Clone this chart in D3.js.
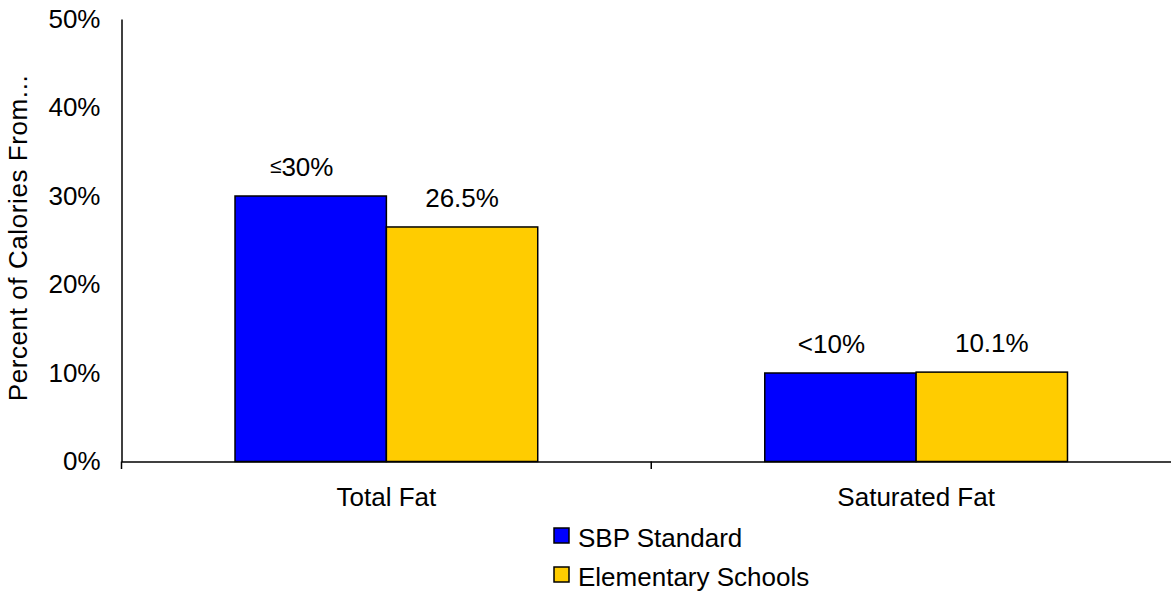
<!DOCTYPE html>
<html>
<head>
<meta charset="utf-8">
<script src="https://cdn.jsdelivr.net/npm/d3@7"></script>
<style>
  html, body { margin: 0; padding: 0; background: #fff; }
  svg { display: block; }
  text { font-family: "Liberation Sans", Arial, sans-serif; fill: #000; }
</style>
</head>
<body>
<svg id="chart" width="1171" height="592"></svg>
<script>
const categories = ["Total Fat", "Saturated Fat"];
const seriesNames = ["SBP Standard", "Elementary Schools"];
const sbpValues = [0.30, 0.10];
const elementaryValues = [0.265, 0.101];
const sbpLabels = ["≤30%", "<10%"];
const elementaryLabels = ["26.5%", "10.1%"];
const yTicks = [0, 0.1, 0.2, 0.3, 0.4, 0.5];
const seriesColors = ["#0000FF", "#FFCC00"];
const yTitle = "Percent of Calories From...";

(function () {
const svg = d3.select("#chart");
const W = 1171, H = 592;
svg.append("rect").attr("width", W).attr("height", H).attr("fill", "#fff");

const plotLeft = 121.5, plotRight = 1181, plotTop = 19, plotBase = 461.5;
const fs = 26;

const y = d3.scaleLinear().domain([0, 0.5]).range([plotBase, plotTop]);
const x0 = d3.scaleBand().domain(categories).range([plotLeft, plotRight]).padding(0);
const x1 = d3.scaleBand().domain(seriesNames).range([0, x0.bandwidth()])
  .paddingInner(0).paddingOuter(0.75);
const color = d3.scaleOrdinal().domain(seriesNames).range(seriesColors);

const rows = categories.map((c, i) => ({
  category: c,
  values: [
    { series: seriesNames[0], value: sbpValues[i], label: sbpLabels[i] },
    { series: seriesNames[1], value: elementaryValues[i], label: elementaryLabels[i] }
  ]
}));

// Y axis
const yAxis = svg.append("g").attr("transform", `translate(${plotLeft},0)`)
  .call(d3.axisLeft(y).tickValues(yTicks).tickFormat(d3.format(".0%"))
    .tickSize(0).tickPadding(21));
yAxis.select(".domain").attr("stroke", "#000").attr("stroke-width", 1.5);
yAxis.selectAll("text").attr("font-size", fs).attr("font-family", "Liberation Sans, Arial, sans-serif");

// Bars
const groups = svg.append("g").selectAll("g").data(rows).join("g")
  .attr("transform", d => `translate(${x0(d.category)},0)`);

groups.selectAll("rect").data(d => d.values).join("rect")
  .attr("x", d => x1(d.series))
  .attr("y", d => y(d.value))
  .attr("width", x1.bandwidth())
  .attr("height", d => y(0) - y(d.value))
  .attr("fill", d => color(d.series))
  .attr("stroke", "#000")
  .attr("stroke-width", 1.5);

const labels = groups.selectAll("text.val").data(d => d.values).join("text")
  .attr("class", "val")
  .attr("x", d => x1(d.series) + x1.bandwidth() / 2 - (/^[0-9]/.test(d.label) ? 0 : 9))
  .attr("y", d => y(d.value) - 20)
  .attr("text-anchor", "middle")
  .attr("font-size", fs);
labels.each(function (d) {
  const t = d3.select(this);
  if (/^[0-9]/.test(d.label)) { t.text(d.label); return; }
  const sym = d.label[0];
  t.append("tspan").attr("font-size", sym === "≤" ? fs * 0.8 : fs)
    .attr("dy", sym === "≤" ? -3 : 0).text(sym);
  t.append("tspan").attr("dy", sym === "≤" ? 3 : 0).text(d.label.slice(1));
});

// X axis
const xAxis = svg.append("g").attr("transform", `translate(0,${plotBase})`)
  .call(d3.axisBottom(x0).tickSize(0).tickPadding(26).tickSizeOuter(0));
xAxis.select(".domain").attr("stroke", "#000").attr("stroke-width", 1.5);
xAxis.selectAll("text").attr("font-size", fs).attr("font-family", "Liberation Sans, Arial, sans-serif");

// category boundary ticks
const bounds = categories.map(c => x0(c)).concat([x0.range()[1]]);
svg.append("g").selectAll("line").data(bounds).join("line")
  .attr("x1", d => d).attr("x2", d => d)
  .attr("y1", plotBase).attr("y2", plotBase + 7.5)
  .attr("stroke", "#000").attr("stroke-width", 1.5);

// Y title
svg.append("text")
  .attr("transform", `translate(27,${(plotTop + plotBase) / 2 - 2}) rotate(-90)`)
  .attr("text-anchor", "middle")
  .attr("font-size", fs)
  .attr("textLength", 326)
  .attr("lengthAdjust", "spacing")
  .text(yTitle);

// Legend
const legend = svg.append("g").selectAll("g").data(seriesNames).join("g")
  .attr("transform", (d, i) => `translate(554,${528 + i * 39})`);
legend.append("rect")
  .attr("width", 15).attr("height", 15)
  .attr("fill", d => color(d))
  .attr("stroke", "#000").attr("stroke-width", 1.5);
legend.append("text")
  .attr("x", 24).attr("y", 18.5)
  .attr("font-size", fs)
  .text(d => d);
})();
</script>
</body>
</html>
